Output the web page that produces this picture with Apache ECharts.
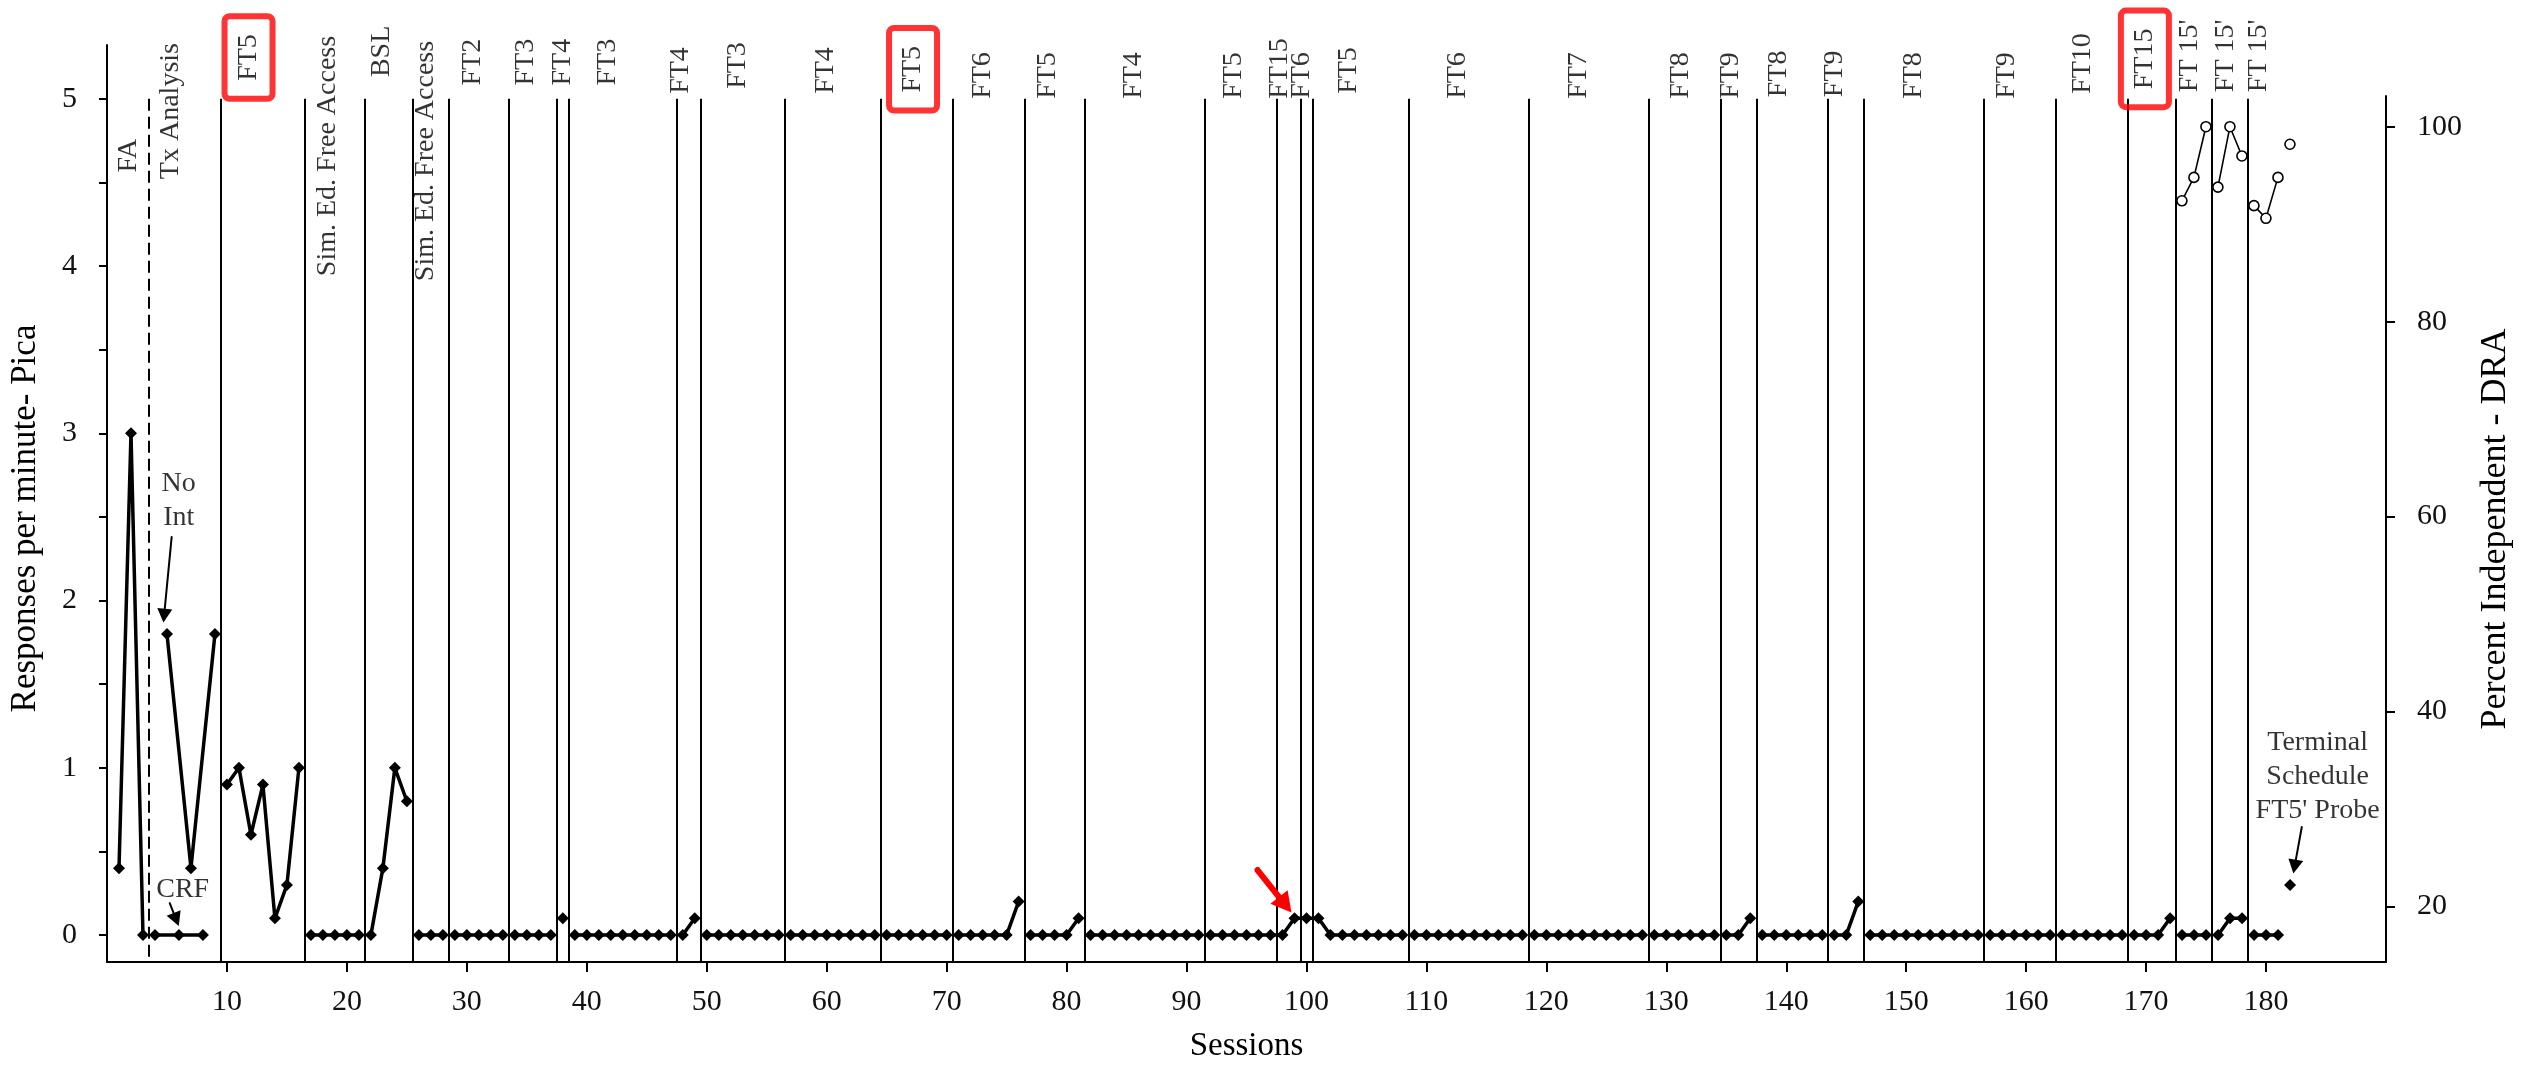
<!DOCTYPE html>
<html><head><meta charset="utf-8">
<script src="https://cdn.jsdelivr.net/npm/echarts@6/dist/echarts.min.js"></script>
<style>html,body{margin:0;padding:0;background:#fff}#c{width:2522px;height:1074px}</style>
</head><body><div id="c"></div>
<script>
// ================= DATA =================
// Responses per minute (Pica), sessions 1..181 (null = sessions plotted in the alternating CRF / No Int series)
const responseRates = [
  0.4, 3.0, 0, null, null, null, null, null, null, 0.9,      // 1-10
  1.0, 0.6, 0.9, 0.1, 0.3, 1.0, 0, 0, 0, 0,                  // 11-20
  0, 0, 0.4, 1.0, 0.8, 0, 0, 0, 0, 0,                        // 21-30
  0, 0, 0, 0, 0, 0, 0, 0.1, 0, 0,                            // 31-40
  0, 0, 0, 0, 0, 0, 0, 0, 0.1, 0,                            // 41-50
  0, 0, 0, 0, 0, 0, 0, 0, 0, 0,                              // 51-60
  0, 0, 0, 0, 0, 0, 0, 0, 0, 0,                              // 61-70
  0, 0, 0, 0, 0, 0.2, 0, 0, 0, 0,                            // 71-80
  0.1, 0, 0, 0, 0, 0, 0, 0, 0, 0,                            // 81-90
  0, 0, 0, 0, 0, 0, 0, 0, 0.1, 0.1,                          // 91-100
  0.1, 0, 0, 0, 0, 0, 0, 0, 0, 0,                            // 101-110
  0, 0, 0, 0, 0, 0, 0, 0, 0, 0,                              // 111-120
  0, 0, 0, 0, 0, 0, 0, 0, 0, 0,                              // 121-130
  0, 0, 0, 0, 0, 0, 0.1, 0, 0, 0,                            // 131-140
  0, 0, 0, 0, 0, 0.2, 0, 0, 0, 0,                            // 141-150
  0, 0, 0, 0, 0, 0, 0, 0, 0, 0,                              // 151-160
  0, 0, 0, 0, 0, 0, 0, 0, 0, 0,                              // 161-170
  0, 0.1, 0, 0, 0, 0, 0.1, 0.1, 0, 0,                        // 171-180
  0                                                          // 181
];
const crfSessions = [4, 6, 8];
const crfValues = [0, 0, 0];
const noIntSessions = [5, 7, 9];
const noIntValues = [1.8, 0.4, 1.8];
const probeSession = [182];
const probeResponse = [0.3];

// Percent independent (DRA)
const draSessions = [173, 174, 175, 176, 177, 178, 179, 180, 181];
const draValues = [92.4, 94.8, 100, 93.8, 100, 97.0, 91.9, 90.6, 94.8];
const probeDRA = [98.2];

// Phase change lines (between sessions)
const phaseLines = [3.5, 9.5, 16.5, 21.5, 25.5, 28.5, 33.5, 37.5, 38.5, 47.5, 49.5, 56.5, 64.5,
  70.5, 76.5, 81.5, 91.5, 97.5, 99.5, 100.5, 108.5, 118.5, 128.5, 134.5, 137.5, 143.5, 146.5,
  156.5, 162.5, 168.5, 172.5, 175.5, 178.5];
const dashedPhaseLines = [3.5];
const pathContinuesAcross = [97.5, 99.5, 100.5];

// Phase labels: [text, session position, anchor (left-axis units), highlighted]
const phaseLabels = [
  ['FA', 1.77, 4.56, false], ['Tx Analysis', 5.34, 4.52, false], ['FT5', 11.8, 5.0, true],
  ['Sim. Ed. Free Access', 18.4, 3.94, false], ['BSL', 22.9, 5.13, false],
  ['Sim. Ed. Free Access', 26.6, 3.91, false], ['FT2', 30.5, 5.08, false], ['FT3', 34.9, 5.08, false],
  ['FT4', 38.0, 5.08, false], ['FT3', 41.7, 5.08, false], ['FT4', 47.8, 5.03, false],
  ['FT3', 52.6, 5.06, false], ['FT4', 59.9, 5.03, false], ['FT5', 67.2, 4.93, true],
  ['FT6', 73.0, 5.0, false], ['FT5', 78.4, 5.0, false], ['FT4', 85.6, 5.0, false],
  ['FT5', 93.9, 5.0, false], ['FT15', 97.8, 5.0, false], ['FT6', 99.6, 5.0, false],
  ['FT5', 103.5, 5.03, false], ['FT6', 112.6, 5.0, false], ['FT7', 122.7, 5.0, false],
  ['FT8', 131.2, 5.0, false], ['FT9', 135.4, 5.0, false], ['FT8', 139.4, 5.01, false],
  ['FT9', 144.0, 5.01, false], ['FT8', 150.6, 5.0, false], ['FT9', 158.4, 5.0, false],
  ['FT10', 164.7, 5.03, false], ['FT15', 169.9, 4.95, true], ["FT 15'", 173.6, 5.04, false],
  ["FT 15'", 176.6, 5.04, false], ["FT 15'", 179.4, 5.04, false]
];

// Text annotations: [text, session position, left-axis value]
const annotations = [
  ['No\nInt', 5.98, 2.6],
  ['CRF', 6.31, 0.27],
  ["Terminal\nSchedule\nFT5' Probe", 184.3, 0.95]
];
// Arrows: [from session, from value, to session, to value, colour]
const arrows = [
  [5.39, 2.38, 4.76, 1.91, 'black'],
  [5.23, 0.191, 5.77, 0.093, 'black'],
  [182.98, 0.646, 182.38, 0.409, 'black'],
  [95.92, 0.389, 98.23, 0.181, 'red']
];

// Axes
const xTicks = [10, 20, 30, 40, 50, 60, 70, 80, 90, 100, 110, 120, 130, 140, 150, 160, 170, 180];
const leftTicks = [0, 0.5, 1, 1.5, 2, 2.5, 3, 3.5, 4, 4.5, 5];
const leftLabels = [0, 1, 2, 3, 4, 5];
const rightTicks = [20, 40, 60, 80, 100];
const X_MIN = 0, X_MAX = 190;
const LEFT_MIN = -0.161, LEFT_MAX = 5.322;
const RIGHT_MIN = 14.3, RIGHT_MAX = 103.15;

// ================= BUILD =================
const FONT = 'Liberation Serif';
const sessions = responseRates.map((_, i) => i + 1);
const breakLines = phaseLines.filter(b => pathContinuesAcross.indexOf(b) < 0);

function segments(xs, ys, breaks) {
  const segs = []; let cur = [];
  for (let i = 0; i < xs.length; i++) {
    if (ys[i] == null) { if (cur.length) segs.push(cur); cur = []; continue; }
    if (cur.length) {
      const px = cur[cur.length - 1][0];
      if (breaks.some(b => b > px && b < xs[i])) { segs.push(cur); cur = []; }
    }
    cur.push([xs[i], ys[i]]);
  }
  if (cur.length) segs.push(cur);
  return segs;
}
const zip = (a, b) => a.map((v, i) => [v, b[i]]);

const series = [];
const respStyle = {
  type: 'line', xAxisIndex: 0, yAxisIndex: 0, symbol: 'diamond', symbolSize: 12,
  itemStyle: { color: '#000' }, lineStyle: { color: '#000', width: 3.5 }, z: 5, silent: true
};
segments(sessions, responseRates, breakLines).forEach(seg => series.push(Object.assign({}, respStyle, { data: seg })));
series.push(Object.assign({}, respStyle, { data: zip(crfSessions, crfValues) }));
series.push(Object.assign({}, respStyle, { data: zip(noIntSessions, noIntValues) }));
series.push(Object.assign({}, respStyle, { data: zip(probeSession, probeResponse) }));

const draStyle = {
  type: 'line', xAxisIndex: 1, yAxisIndex: 1, symbol: 'circle', symbolSize: 10,
  itemStyle: { color: '#fff', borderColor: '#000', borderWidth: 1.6 },
  lineStyle: { color: '#000', width: 1.6 }, z: 6, silent: true
};
segments(draSessions, draValues, breakLines).forEach(seg => series.push(Object.assign({}, draStyle, { data: seg })));
series.push(Object.assign({}, draStyle, { data: zip(probeSession, probeDRA) }));

// Phase lines
series.push({
  type: 'line', xAxisIndex: 0, yAxisIndex: 0, data: [], z: 2, silent: true,
  markLine: {
    silent: true, symbol: ['none', 'none'], label: { show: false }, animation: false,
    lineStyle: { color: '#000', width: 2, type: 'solid' },
    emphasis: { disabled: true },
    data: phaseLines.map(x => [
      { coord: [x, 5], lineStyle: { color: '#000', width: 2, type: dashedPhaseLines.indexOf(x) >= 0 ? [12, 6] : 'solid' } },
      { coord: [x, LEFT_MIN] }
    ])
  }
});

// Arrows
series.push({
  type: 'line', xAxisIndex: 0, yAxisIndex: 0, data: [], z: 7, silent: true,
  markLine: {
    silent: true, label: { show: false }, animation: false, emphasis: { disabled: true },
    data: arrows.map(a => {
      const red = a[4] === 'red';
      return [
        { coord: [a[0], a[1]], symbol: 'none', lineStyle: { color: red ? '#ff0000' : '#000', width: red ? 6 : 2, type: 'solid', cap: 'round' } },
        { coord: [a[2], a[3]], symbol: 'triangle', symbolSize: red ? [22, 20] : [15, 14] }
      ];
    })
  }
});

// Phase labels
series.push({
  type: 'scatter', xAxisIndex: 0, yAxisIndex: 0, symbolSize: 1, z: 8, silent: true,
  itemStyle: { color: 'rgba(0,0,0,0)' },
  data: phaseLabels.map(p => {
    const item = { name: p[0], value: [p[1], p[2]] };
    if (p[3]) item.label = { borderColor: '#ff0000', borderWidth: 6, borderRadius: 5, padding: [9, 18, 9, 18] };
    return item;
  }),
  label: {
    show: true, formatter: p => p.name, position: 'inside', rotate: 90, align: 'left', verticalAlign: 'middle',
    fontFamily: FONT, fontSize: 28, lineHeight: 30, color: '#000'
  }
});

// Text annotations
series.push({
  type: 'scatter', xAxisIndex: 0, yAxisIndex: 0, symbolSize: 1, z: 8, silent: true,
  itemStyle: { color: 'rgba(0,0,0,0)' },
  data: annotations.map(a => ({ name: a[0], value: [a[1], a[2]] })),
  label: {
    show: true, formatter: p => p.name, position: 'inside', align: 'center', verticalAlign: 'middle',
    fontFamily: FONT, fontSize: 28, lineHeight: 34, color: '#000'
  }
});

const axisLineStyle = { color: '#000', width: 2 };
const option = {
  animation: false,
  backgroundColor: '#fff',
  textStyle: { fontFamily: FONT },
  grid: [
    { left: 105, right: 136, top: 45, bottom: 112 },
    { left: 105, right: 136, top: 96, bottom: 112 }
  ],
  xAxis: [
    {
      type: 'value', gridIndex: 0, min: X_MIN, max: X_MAX,
      name: 'Sessions', nameLocation: 'middle', nameGap: 68,
      nameTextStyle: { fontFamily: FONT, fontSize: 33, color: '#000' },
      axisLine: { show: true, onZero: false, lineStyle: axisLineStyle },
      axisTick: { show: true, length: 10, lineStyle: axisLineStyle, customValues: xTicks },
      axisLabel: { show: true, customValues: xTicks, fontFamily: FONT, fontSize: 30, color: '#111', margin: 25 },
      splitLine: { show: false }
    },
    { type: 'value', gridIndex: 1, min: X_MIN, max: X_MAX, show: false }
  ],
  yAxis: [
    {
      type: 'value', gridIndex: 0, position: 'left', min: LEFT_MIN, max: LEFT_MAX,
      name: 'Responses per minute- Pica', nameLocation: 'middle', nameRotate: 90, nameGap: 64,
      nameTextStyle: { fontFamily: FONT, fontSize: 35, color: '#000', padding: [0, 30, 0, 0] },
      axisLine: { show: true, onZero: false, lineStyle: axisLineStyle },
      axisTick: { show: true, length: 8, lineStyle: axisLineStyle, customValues: leftTicks },
      axisLabel: { show: true, customValues: leftLabels, fontFamily: FONT, fontSize: 30, color: '#111', margin: 30 },
      splitLine: { show: false }
    },
    {
      type: 'value', gridIndex: 1, position: 'right', min: RIGHT_MIN, max: RIGHT_MAX,
      name: 'Percent Independent - DRA', nameLocation: 'middle', nameRotate: 90, nameGap: 92,
      nameTextStyle: { fontFamily: FONT, fontSize: 36, color: '#000' },
      axisLine: { show: true, onZero: false, lineStyle: axisLineStyle },
      axisTick: { show: true, length: 9, lineStyle: axisLineStyle, customValues: rightTicks },
      axisLabel: { show: true, customValues: rightTicks, fontFamily: FONT, fontSize: 30, color: '#111', margin: 31 },
      splitLine: { show: false }
    }
  ],
  series: series
};
const chart = echarts.init(document.getElementById('c'), null, { renderer: 'canvas' });
chart.setOption(option);
</script>
</body></html>
